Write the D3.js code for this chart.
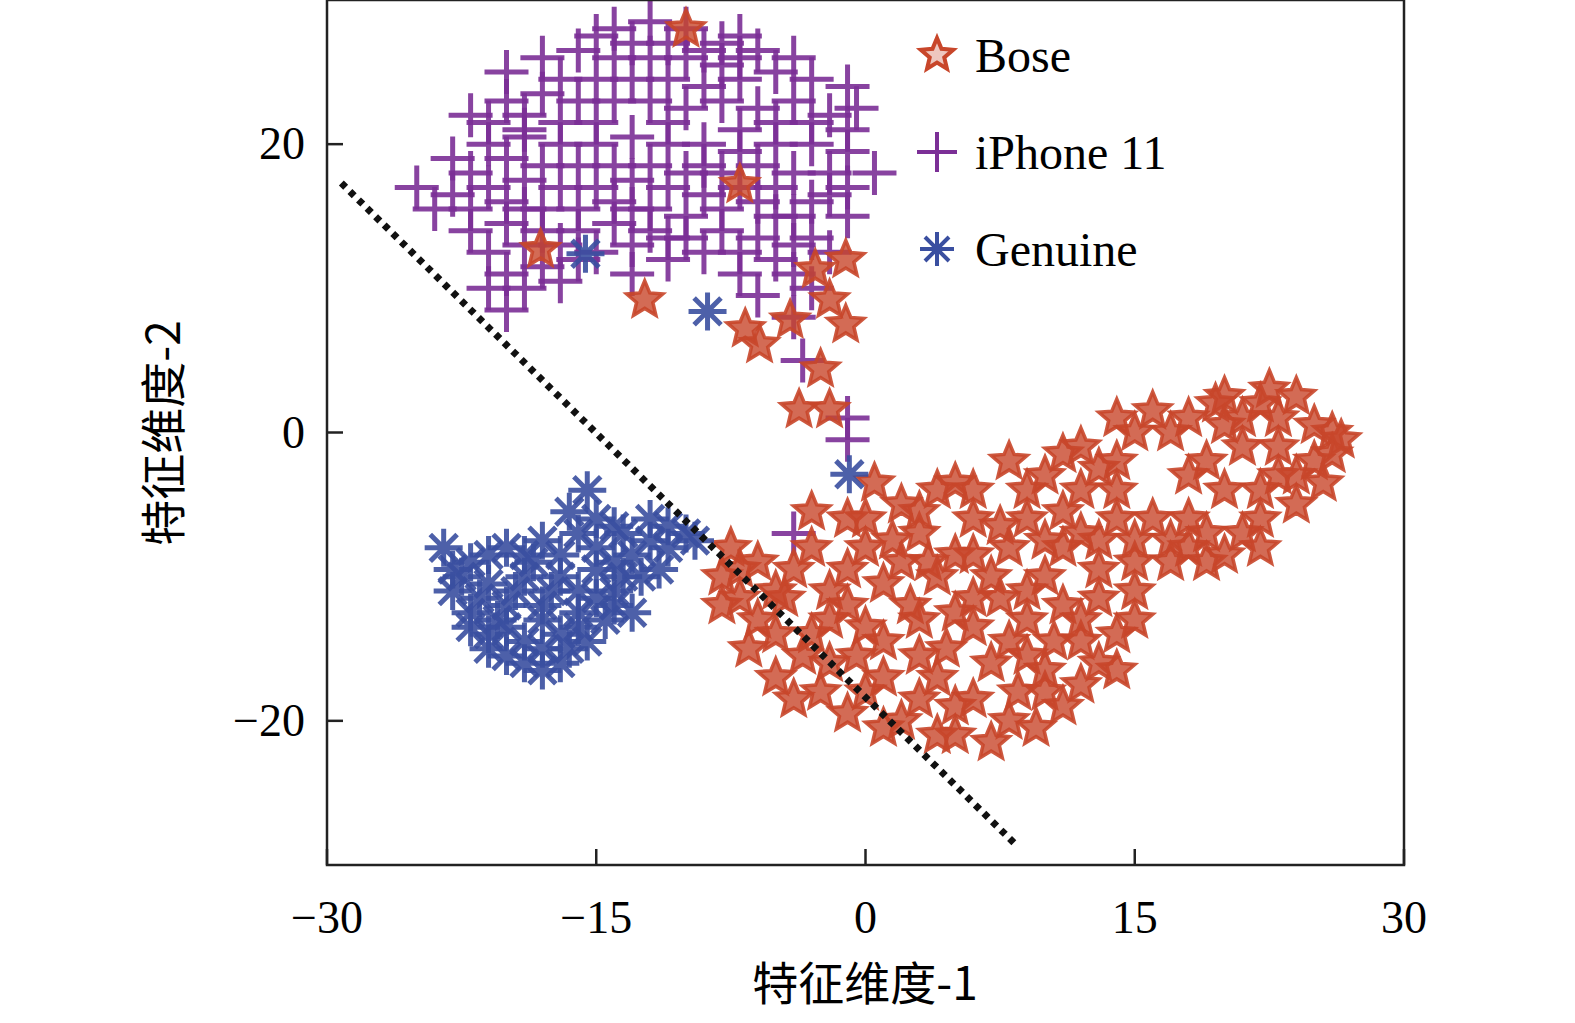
<!DOCTYPE html>
<html><head><meta charset="utf-8">
<script src="https://cdn.jsdelivr.net/npm/d3@7/dist/d3.min.js"></script>
<style>body{margin:0;background:#fff}</style></head>
<body><svg id="c" width="1575" height="1023"></svg>
<script>
const xTicks=[-30,-15,0,15,30];
const yTicks=[-20,0,20];
const legendLabels=["Bose","iPhone 11","Genuine"];
const boseData=[[-10,28],[-18.1,12.7],[-12.3,9.2],[-6.7,7.2],[-4.2,7.8],[-2,9.2],[-1.1,7.5],[-1.1,12],[-2.8,11.3],[-2.5,4.4],[-3.7,1.6],[-2,1.6],[-5.9,6.1],[-7,17.2],
[-1,-6],[2,-5],[5,-3.5],[8,-2],[10,-3],[12,-4],
[-6,-9],[-3,-8],[0,-8],[3,-7],[6,-6],[9,-6],[12,-7],[14,-6],
[-8,-10],[-5,-11],[-2,-11],[1,-10.5],[4,-10],[7,-10],[10,-10],[13,-9.5],[15,-9],
[-6,-13],[-3,-14],[0,-13.5],[3,-13],[6,-13.5],[9,-13],[12,-13],
[-5,-17],[-2,-16],[1,-17],[4,-17],[7,-16],[10,-16.5],[13,-16],
[-4,-18.5],[-1,-19.5],[2,-20],[5,-21],[8,-20],[11,-19],
[14,-2],[14,1],[16,1.5],[18,1],[20,2.5],[22,2],[24,2.5],[26,0],[25,-2],[23,-1],[21,-1],[19,-2],[20,-4],[22,-4],[24,-5],[21,-7],[18,-6],[16,-6],[17,-9],[19,-9],[14,-4],[12,-1],[26,-1.5],[15,-11],
[-4.5,-11.5],[1.5,-7.5],[7.5,-11.5],[4.5,-15],[10.5,-14.5],[-0.5,-15.5],[6,-8.5],[11,-8],[3,-18.5],[8.5,-18],[-3.5,-15.5],[-7,-11.5],[4,-4],[9,-4],[23,1],[20,0.5],[13,-11.5],[2.5,-12],[8,-14.5],[-1,-9.5],
[-7,-9.5],[-4,-9.5],[-1,-12],[2,-9],[5,-8.5],[8,-8],[11,-5.5],[13,-7.5],[-6.5,-15],[-2.5,-18],[0,-18],[3,-15.5],[6,-18.5],[9,-15.5],[12,-14.5],[14,-14],[6,-11.5],[9,-11],[3,-5.5],[6,-4],[0.5,-3.5],[-3,-5.5],[7,-21.5],[4,-21],[10,-18],[12,-17.5],[1,-14.5],[-2,-13],[5,-19],[15,-7.5],[18,-3],[17,-7.5],[19,-7],[20,-8.5],[22,-6],[23,-3],[25,0.5],[24,-3],[21,1],[15,0],[13,-2.5],[11,-1.5],[18,-8],[15,-13],[14,-16.5],[-5,-14],[-8,-12],[-7.5,-8],[0,-6],[1,-20.5],[9.5,-20.5],[11,-12],[7.5,-6.5],[10,-7.5],[3.5,-9],[5,-12.5],[22,-8],[25.5,-3.5],[26.5,-0.5],[17,0],[19.5,2],[22.5,3]];
const iphoneData=[[-14,28],[-12,28.5],[-10,28],[-8,27],[-6,26.5],
[-20,25],[-18,26],[-16,26.5],[-14,26],[-12,26],[-10,26],[-8,25.5],[-5,25],[-3,24.5],[-1,24],
[-22,22],[-20,23],[-18,23.5],[-16,23],[-14,23],[-12,23],[-10,22.5],[-8,23],[-6,22.5],[-4,23],[-2,22],[-0.5,22.5],
[-23,19],[-21,20],[-19,20.5],[-17,20],[-15,20],[-13,20.5],[-11,20],[-9,20],[-7,19.5],[-5,20],[-3,20],[-1,19.5],[0.5,18],
[-25,17],[-23,16.5],[-21,17],[-19,17.5],[-17,17],[-15,17],[-13,17.5],[-11,17],[-9,16.5],[-7,17],[-5,17],[-3,16],[-1,15],
[-22,14],[-20,14.5],[-18,14],[-16,14],[-14,14.5],[-12,14],[-10,13.5],[-8,14],[-6,13.5],[-4,13],[-2,12.5],
[-20,11],[-18,11.5],[-16,12],[-13,11],[-11,12],[-7,11],[-4,11],
[-20,8.5],[-19,10],[-6,9.5],[-4,8],[-3.5,5],[-1,1],[-1,-0.5],[-4,-7],
[-15,24.5],[-11,24.5],[-7,21],[-17,21.5],[-13,15.5],[-9,18.5],[-19,15.5],[-5,15],[-2,18],
[-21,21.5],[-19,22],[-17,24.5],[-13,24.5],[-9,24],[-7,24.5],[-3,21.5],[-1,21],[-22,18],[-20,19],[-18,18.5],[-16,18.5],[-14,18.5],[-12,18.5],[-10,18],[-8,18],[-6,18.5],[-4,18],[-2,16.5],[-24,15.5],[-22,15.5],[-20,16],[-18,15.5],[-16,15.5],[-14,16],[-12,15.5],[-10,15],[-8,15.5],[-6,16],[-4,15],[-21,12.5],[-19,13],[-17,13],[-15,12.5],[-13,13],[-11,13.5],[-9,12.5],[-7,12.5],[-5,12],[-3,13.5],[-15,27.5],[-11,27],[-9,26.5],[-7,27.5],[-13,27],[-1,17],[-21,10],[-17,10.5],[-3,10],[-19,21],[-15,21.5],[-11,21.5],[-5,21.5],[-7,26],[-4,26]];
const genuineData=[[-15.6,12.4],[-8.8,8.4],[-0.9,-2.9],
[-23.5,-8],[-22,-9],[-20,-8],[-18,-7.5],[-16,-7],[-15.5,-4],[-14,-6.5],[-12,-6],[-11,-6.5],[-10,-7],[-9.5,-7.5],[-13,-8.5],[-12.5,-10],[-11.5,-9.5],
[-23,-11],[-21,-10.5],[-19,-10],[-17,-10],[-15,-9.5],[-14,-11],[-22,-12.5],[-20,-12],[-18,-12],[-16,-12.5],[-14.5,-13],[-21,-14],[-19,-14.5],[-17,-14],[-15.5,-14.5],[-20,-15.5],[-17,-16],[-18,-15],[-13,-12.5],[-18.5,-9],[-16,-11],[-20.5,-13],
[-22.5,-10],[-21,-8.5],[-19,-8.5],[-17,-8.5],[-15,-8],[-13.5,-7],[-21.5,-11.5],[-19.5,-11],[-17.5,-11],[-15,-11.5],[-13.5,-10],[-22,-13.5],[-20,-13.5],[-18,-13],[-16,-13.5],[-14,-12],[-19,-16],[-16.5,-15],[-18,-16.5],[-11,-8],[-12,-7.5],[-14,-9],[-16.5,-5.5],[-15,-6],[-21,-15],[-23,-9.5]];
const lineData=[[-29.2,17.3],[8.3,-28.5]];
const colors={bose:"#c8462a",iphone:"#7b2f96",genuine:"#3a4fa0"};

const svg=d3.select("#c");
const L=327,R=1404,T=0,B=865;
const x=d3.scaleLinear().domain([-30,30]).range([L,R]);
const y=d3.scaleLinear().domain([-30,30]).range([B,T]);
const font="'Liberation Serif','DejaVu Serif',serif";

function starPath(r){const p=[];for(let i=0;i<10;i++){const a=-Math.PI/2+i*Math.PI/5;const rr=i%2?r*0.45:r;p.push([rr*Math.cos(a),rr*Math.sin(a)]);}return "M"+p.map(d=>d.join(",")).join("L")+"Z";}
function plusPath(r){return `M${-r},0H${r}M0,${-r}V${r}`;}
function astPath(r){let s="";for(let i=0;i<4;i++){const a=i*Math.PI/4;s+=`M${-r*Math.cos(a)},${-r*Math.sin(a)}L${r*Math.cos(a)},${r*Math.sin(a)}`;}return s;}

const g=svg.append("g");
function draw(data,path,col,sw,fill){
 g.selectAll(null).data(data).enter().append("path").attr("d",path)
 .attr("transform",d=>`translate(${x(d[0])},${y(d[1])})`)
 .attr("fill",fill||"none").attr("stroke",col).attr("stroke-width",sw).attr("stroke-opacity",0.9);
}
draw(iphoneData,plusPath(22),colors.iphone,5);
draw(boseData,starPath(19),colors.bose,3.5,"rgba(200,70,42,0.8)");
draw(genuineData,astPath(19),colors.genuine,5);

svg.append("path").attr("d",d3.line().x(d=>x(d[0])).y(d=>y(d[1]))(lineData))
 .attr("stroke","#111").attr("stroke-width",7).attr("stroke-dasharray","6,6").attr("fill","none");

svg.append("rect").attr("x",L).attr("y",T).attr("width",R-L).attr("height",B-T).attr("fill","none").attr("stroke","#222").attr("stroke-width",2.5);
xTicks.forEach(t=>{svg.append("line").attr("x1",x(t)).attr("x2",x(t)).attr("y1",B).attr("y2",B-16).attr("stroke","#222").attr("stroke-width",2.5);
 svg.append("text").attr("x",x(t)).attr("y",933).attr("text-anchor","middle").attr("font-family",font).attr("font-size",46).text(t<0?"\u2212"+(-t):t);});
yTicks.forEach(t=>{svg.append("line").attr("x1",L).attr("x2",L+16).attr("y1",y(t)).attr("y2",y(t)).attr("stroke","#222").attr("stroke-width",2.5);
 svg.append("text").attr("x",305).attr("y",y(t)+15).attr("text-anchor","end").attr("font-family",font).attr("font-size",46).text(t<0?"\u2212"+(-t):t);});
svg.append("text").attr("x",865).attr("y",1000).attr("text-anchor","middle").attr("font-family","'Noto Sans CJK SC',serif").attr("font-size",46).text("特征维度-1");
svg.append("text").attr("transform","translate(180,433) rotate(-90)").attr("text-anchor","middle").attr("font-family","'Noto Sans CJK SC',serif").attr("font-size",46).text("特征维度-2");

const lg=[[starPath(17),colors.bose,"rgba(200,70,42,0.3)"],[plusPath(20),colors.iphone,"none"],[astPath(17),colors.genuine,"none"]];
legendLabels.forEach((l,i)=>{const yy=55+i*97;
 svg.append("path").attr("d",lg[i][0]).attr("transform",`translate(937,${yy})`).attr("fill",lg[i][2]).attr("stroke",lg[i][1]).attr("stroke-width",4);
 svg.append("text").attr("x",975).attr("y",yy+17).attr("font-family",font).attr("font-size",48).text(l);});
</script></body></html>
